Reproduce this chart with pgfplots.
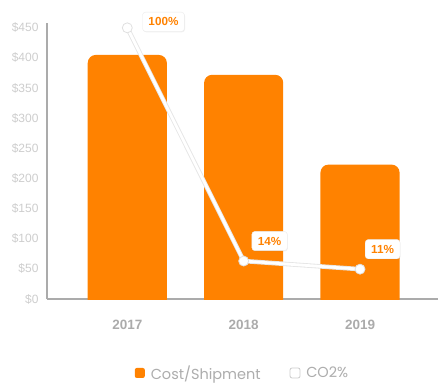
\documentclass[border=0pt]{standalone}
\usepackage{pgfplots}
\pgfplotsset{compat=1.18}
\usepackage{pgfplotstable}
\usetikzlibrary{shadows}
\usepackage{fontspec}
\setmainfont{Liberation Sans}
\newfontfamily\legfont{Poppins}
\definecolor{barorange}{HTML}{FF8200}
\definecolor{axisgray}{HTML}{ABABAB}
\definecolor{ylabgray}{HTML}{CDCDCD}
\definecolor{xlabgray}{HTML}{ABABAB}
\definecolor{leggray}{HTML}{ADADAD}

\pgfplotstableread{
x y lab dx dy
0 100 100 15 6
1 14 14 8 20
2 11 11 5 20
}\cotwo

\begin{document}
\begin{tikzpicture}[x=1pt,y=1pt]
\path[use as bounding box] (-47,-92) rectangle (398,299);
\begin{axis}[
  at={(0,0)}, anchor=south west,
  scale only axis, width=391pt, height=276pt,
  xmin=-0.69, xmax=2.67, ymin=0, ymax=458,
  axis x line=bottom, axis y line=left,
  axis line style={axisgray, line width=2pt, -},
  major tick length=0pt,
  xtick={0,1,2}, xticklabels={2017,2018,2019},
  xticklabel style={text=xlabgray, font=\bfseries\fontsize{13.5}{15}\selectfont, yshift=-18pt},
  ytick={0,50,...,450},
  yticklabel={\$\pgfmathprintnumber{\tick}},
  /pgf/number format/assume math mode=true,
  yticklabel style={text=ylabgray, font=\fontsize{12}{14}\selectfont, xshift=-5pt},
  legend style={at={(0.5,-0.268)}, anchor=center, draw=none, legend columns=2,
    font=\legfont\fontsize{14.5}{16}\selectfont, text=leggray,
    /tikz/every even column/.append style={column sep=27pt}},
  legend cell align=left,
]
\addplot[fill=barorange, draw=none, rounded corners=8pt,
  legend image code/.code={\fill[barorange, rounded corners=2pt] (0pt,-5pt) rectangle (10pt,5pt); \path (14pt,0pt);}]
  coordinates {(-0.34,-30) (-0.34,405) (0.34,405) (0.34,-30)};
\addlegendentry{Cost/Shipment}
\addplot[fill=barorange, draw=none, rounded corners=8pt, forget plot]
  coordinates {(0.66,-30) (0.66,372) (1.34,372) (1.34,-30)};
\addplot[fill=barorange, draw=none, rounded corners=8pt, forget plot]
  coordinates {(1.66,-30) (1.66,223) (2.34,223) (2.34,-30)};
\addlegendimage{legend image code/.code={\draw[black!20, fill=white, rounded corners=2pt, line width=0.8pt] (0pt,-5pt) rectangle (10pt,5pt); \path (14pt,0pt);}}
\addlegendentry{CO2\%}
\end{axis}
\begin{axis}[
  at={(0,0)}, anchor=south west,
  scale only axis, width=391pt, height=276pt,
  xmin=-0.69, xmax=2.67, ymin=0, ymax=101.78,
  hide axis, clip=false,
]
\addplot[draw=black!10, line width=4.5pt, line join=round] table[x=x,y=y] {\cotwo};
\addplot[draw=white, line width=2.8pt, line join=round, mark=*, mark size=5pt,
  mark options={fill=white, draw=black!12, line width=0.8pt}] table[x=x,y=y] {\cotwo};
\addplot[draw=none, mark=none,
  point meta=explicit symbolic,
  visualization depends on={\thisrow{dx} \as \dx},
  visualization depends on={\thisrow{dy} \as \dy},
  nodes near coords={\pgfplotspointmeta\%},
  every node near coord/.style={anchor=west, xshift=\dx pt, yshift=\dy pt,
    fill=white, draw=black!8, rounded corners=3pt, text=barorange,
    font=\bfseries\fontsize{11.7}{14}\selectfont, inner xsep=6pt, inner ysep=5.5pt,
    drop shadow={opacity=0.12, shadow xshift=0.6pt, shadow yshift=-0.8pt}},
] table[x=x,y=y,meta=lab] {\cotwo};
\end{axis}
\end{tikzpicture}
\end{document}
